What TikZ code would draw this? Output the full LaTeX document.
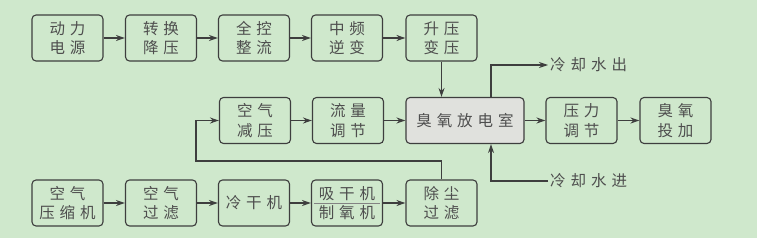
\documentclass[tikz,border=0pt]{standalone}
\usepackage{fontspec}
\newfontfamily\cjk[LetterSpace=32]{Noto Sans CJK SC}
\usetikzlibrary{arrows.meta}
\definecolor{bggreen}{RGB}{207,232,204}
\definecolor{linegray}{RGB}{62,62,62}
\definecolor{txtgray}{RGB}{78,78,78}
\definecolor{roomgray}{RGB}{224,225,221}
\tikzset{
  blk/.style={draw=linegray, line width=1.1pt, rounded corners=4pt,
    minimum width=71pt, minimum height=46pt, align=center, inner sep=0pt,
    text=txtgray, font=\cjk\fontsize{15.5}{19.5}\selectfont},
  lbl/.style={anchor=west, inner sep=2pt, text=txtgray,
    font=\cjk\fontsize{15.5}{19.5}\selectfont},
  flow/.style={draw=linegray, line width=1.1pt, -{Stealth[length=9pt,width=6pt]}},
}
\begin{document}
\begin{tikzpicture}[x=1pt,y=-1pt]
    \useasboundingbox[fill=bggreen] (0,0) rectangle (757,238);

    % Stromversorgung
    \node[blk] (pw)   at (67.5,38)  {动力\\电源};
    \node[blk] (cv)   at (161,38)   {转换\\降压};
    \node[blk] (rect) at (254,38)   {全控\\整流};
    \node[blk] (inv)  at (347,38)   {中频\\逆变};
    \node[blk] (tf)   at (441.5,38) {升压\\变压};

    % Gasweg
    \node[blk] (dec)  at (255,120.5) {空气\\减压};
    \node[blk] (flw)  at (348,120.5) {流量\\调节};
    \node[blk, fill=roomgray, minimum width=118pt] (room) at (465,120.5) {臭氧放电室};
    \node[blk] (prs)  at (581.5,120.5) {压力\\调节};
    \node[blk] (dose) at (675.5,120.5) {臭氧\\投加};

    % Luftaufbereitung
    \node[blk] (comp) at (67.5,203)  {空气\\压缩机};
    \node[blk] (filt) at (161,203)   {空气\\过滤};
    \node[blk] (dry)  at (254,203)   {冷干机};
    \node[blk] (psa)  at (347,203)   {吸干机\\制氧机};
    \node[blk] (dust) at (441.5,203) {除尘\\过滤};
    \draw[txtgray!70, line width=0.5pt] ([xshift=3pt]psa.west) -- ([xshift=-3pt]psa.east);

    % Kuehlwasser
    \node[lbl] (cwout) at (548,65)  {冷却水出};
    \node[lbl] (cwin)  at (548,181) {冷却水进};
    \coordinate (cw)  at (491,0);
    \coordinate (fbk) at (196,161);

    % Pfeile
    \draw[flow] (pw) -- (cv);
    \draw[flow] (cv) -- (rect);
    \draw[flow] (rect) -- (inv);
    \draw[flow] (inv) -- (tf);
    \draw[flow] (tf.south) -- (tf.south |- room.north);
    \draw[flow] (dec) -- (flw);
    \draw[flow] (flw) -- (room);
    \draw[flow] (room) -- (prs);
    \draw[flow] (prs) -- (dose);
    \draw[flow] (comp) -- (filt);
    \draw[flow] (filt) -- (dry);
    \draw[flow] (dry) -- (psa);
    \draw[flow] (psa) -- (dust);
    \draw[flow] (dust.north) |- (fbk) |- (dec.west);
    \draw[flow] (room.north -| cw) |- (cwout.west);
    \draw[flow] (cwin.west) -| (room.south -| cw);

\end{tikzpicture}
\end{document}
